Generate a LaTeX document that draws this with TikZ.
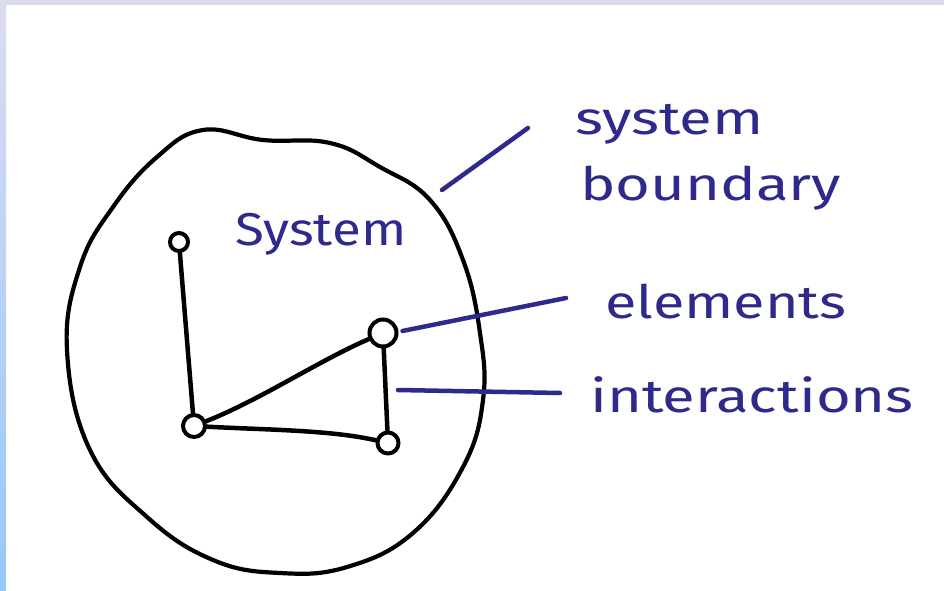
\documentclass[tikz,border=0pt]{standalone}
\usepackage{fontspec}
\setmainfont{Fira Sans}
\definecolor{ink}{HTML}{2E2A8C}
\definecolor{frametop}{HTML}{DCDCF0}
\definecolor{framebot}{HTML}{96C8FA}
\begin{document}
\begin{tikzpicture}[x=1pt,y=-1pt,
  elem/.style={circle,draw=black,line width=4pt,fill=white,inner sep=0pt},
  link/.style={draw=black,line width=4.5pt,line cap=round},
  leader/.style={draw=ink,line width=4.5pt,line cap=round},
  lbl/.style={text=ink,font=\fontsize{46}{46}\selectfont,inner sep=0pt,anchor=base west}]
\useasboundingbox (0,0) rectangle (944,591);
\fill[white] (0,0) rectangle (944,591);
\fill[frametop] (0,0) rectangle (944,5);
\shade[top color=frametop,bottom color=framebot] (0,0) rectangle (6,591);
% boundary
\draw[line width=4.2pt,black] plot[smooth cycle,tension=0.7] coordinates
  {(203,130) (263,140) (330,143) (380,167) (430,200) (463,260) (480,333) (483,400)
   (463,467) (413,533) (347,567) (280,573) (213,560) (147,517) (90,450) (67,350)
   (80,267) (113,207) (157,157)};
% elements
\node[elem,minimum size=18pt] (a) at (179,242) {};
\node[elem,minimum size=22pt] (b) at (194,426) {};
\node[elem,minimum size=27pt] (c) at (383,333) {};
\node[elem,minimum size=21pt] (d) at (388,443) {};
\draw[link] (a) -- (b);
\draw[link] (b) .. controls (260,400) and (320,360) .. (c);
\draw[link] (b) .. controls (270,430) and (330,430) .. (d);
\draw[link] (c) -- (d);
% labels
\node[lbl,text=ink] (sys) at (235,245) {\scalebox{1.15}[1]{System}};
\node[lbl] (tsys) at (575,135) {\scalebox{1.3}[1]{system}};
\node[lbl] (tbound) at (580,200) {\scalebox{1.3}[1]{boundary}};
\node[lbl] (telem) at (605,318) {\scalebox{1.25}[1]{elements}};
\node[lbl] (tint) at (590,412) {\scalebox{1.3}[1]{interactions}};
\coordinate (lb1) at (442,190);
\coordinate (lb2) at (528,128);
\coordinate (le2) at (566,298);
\coordinate (li1) at (398,390);
\coordinate (li2) at (560,393);
\draw[leader] (c.east) ++(4,-2) -- (le2);
\draw[leader] (lb1) -- (lb2);
\draw[leader] (li1) -- (li2);
\end{tikzpicture}
\end{document}
